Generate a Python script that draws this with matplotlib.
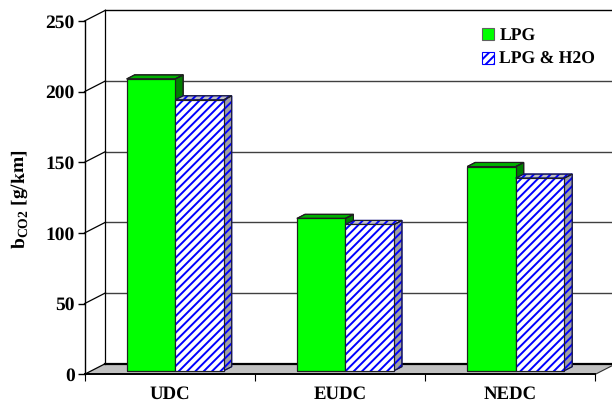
#!/usr/bin/python3

"""
Bar chart of CO2 emission per driving cycle, with a drawn 3D box look.
"""

import matplotlib
matplotlib.use("Agg")
import matplotlib.pyplot as plt
from matplotlib.patches import Patch, Polygon

cycles   = ["UDC", "EUDC", "NEDC"]
lpg      = [206.5, 107.8, 144.5]
lpg_h2o  = [191.7, 103.5, 136.3]
y_values = [0, 50, 100, 150, 200, 250]

# oblique projection: one unit of depth moves this far in data units
DEPTH_X = 0.1233
DEPTH_Y = 7.6
BAR_Z0  = 0.33
BAR_Z1  = 0.71
BAR_W   = 0.285

plt.rcParams["font.family"] = ["Liberation Serif", "DejaVu Serif"]
plt.rcParams["font.weight"] = "bold"
plt.rcParams["mathtext.fontset"] = "custom"
plt.rcParams["mathtext.bf"] = "Liberation Serif:bold"
plt.rcParams["mathtext.rm"] = "Liberation Serif:bold"
plt.rcParams["hatch.linewidth"] = 1.4
plt.rcParams["text.hinting"] = "no_hinting"


def proj(x, v, z):
    return (x + z * DEPTH_X, v + z * DEPTH_Y)


def poly(ax, pts, **kw):
    ax.add_patch(Polygon(pts, closed=True, clip_on=False, **kw))


def draw_bar(ax, x, val, front, side, top, hatch=None):
    """One box: side and top as polygons, front through ax.bar"""
    edge = "#202020"
    hkw = {"hatch": hatch, "linewidth": 0.8} if hatch else {"linewidth": 0.8}
    r = x + BAR_W
    side_pts = [proj(r, 0, BAR_Z0), proj(r, 0, BAR_Z1), proj(r, val, BAR_Z1), proj(r, val, BAR_Z0)]
    top_pts = [proj(x, val, BAR_Z0), proj(r, val, BAR_Z0), proj(r, val, BAR_Z1), proj(x, val, BAR_Z1)]
    poly(ax, side_pts, facecolor=side, edgecolor="blue" if hatch else edge, zorder=3, **hkw)
    poly(ax, top_pts, facecolor=top, edgecolor="blue" if hatch else edge, zorder=3, **hkw)
    # outlines stay dark, the hatch above takes the edge colour
    for pts in (side_pts, top_pts):
        poly(ax, pts, fill=False, edgecolor=edge, linewidth=0.8, zorder=3)
    x0, b0 = proj(x, 0, BAR_Z0)
    ax.bar(x0, val, BAR_W, bottom=b0, align="edge", color=front,
           edgecolor="blue" if hatch else edge, hatch=hatch, linewidth=0.8,
           zorder=3, clip_on=False)
    ax.bar(x0, val, BAR_W, bottom=b0, align="edge", fill=False,
           edgecolor=edge, linewidth=0.8, zorder=3, clip_on=False)


def main():
    fig = plt.figure()
    fig.set_size_inches(6.12, 4.03, forward=True)

    W, H = 612.0, 403.0
    ax = fig.add_axes([84.5 / W, 1 - 374.3 / H, (595.3 - 84.5) / W, (374.3 - 21.0) / H])
    ax.set_xlim(0, 3)
    ax.set_ylim(0, 250)
    ax.patch.set_visible(False)

    # floor
    poly(ax, [proj(0, 0, 0), proj(3, 0, 0), proj(3, 0, 1), proj(0, 0, 1)],
         facecolor="#c0c0c0", edgecolor="none", zorder=1)
    ax.plot(*zip(proj(0, 0, 1), proj(3, 0, 1)), color="black", lw=1.6, zorder=1.5, clip_on=False)
    ax.plot(*zip(proj(3, 0, 0), proj(3, 0, 1)), color="#303030", lw=0.8, zorder=1.5, clip_on=False)

    # back wall lines and the diagonals up from the y axis
    for v in y_values[1:]:
        col = "black" if v == 250 else "#404040"
        ax.plot(*zip(proj(0, v, 1), proj(3, v, 1)), color=col, lw=1.0, zorder=1, clip_on=False)
        ax.plot(*zip(proj(0, v, 0), proj(0, v, 1)), color="black", lw=0.9, zorder=1, clip_on=False)
    ax.plot(*zip(proj(0, 0, 0), proj(0, 0, 1)), color="black", lw=0.9, zorder=1.5, clip_on=False)
    ax.plot(*zip(proj(0, 0, 1), proj(0, 250, 1)), color="black", lw=0.9, zorder=1, clip_on=False)

    for i in range(len(cycles)):
        mid = i + 0.492
        draw_bar(ax, mid - BAR_W, lpg[i], "#00ff00", "#008000", "#00b000")
        draw_bar(ax, mid, lpg_h2o[i], "white", "#a0a0a0", "#c0c0c0", hatch="////")

    for s in ("top", "right"):
        ax.spines[s].set_visible(False)
    ax.spines["left"].set_linewidth(1.0)
    ax.spines["bottom"].set_linewidth(1.4)

    ax.set_yticks(y_values)
    ax.tick_params(axis="y", length=5, width=1.0, pad=2, labelsize=14)
    ax.set_xticks([0, 1, 2, 3])
    ax.set_xticklabels([])
    ax.tick_params(axis="x", which="major", length=5, width=0.8)
    ax.set_xticks([i + 0.5 for i in range(len(cycles))], labels=cycles, minor=True)
    ax.tick_params(axis="x", which="minor", length=0, pad=8, labelsize=13.5)

    fig.text(20 / W, 1 - 199 / H, r"b$_{\mathbf{CO2}}$ [g/km]", rotation=90,
             ha="center", va="center", fontsize=14)

    handles = [Patch(facecolor="#00ff00", edgecolor="#606060", linewidth=0.8, label="LPG"),
               Patch(facecolor="white", edgecolor="blue", hatch="////", linewidth=0.8, label="LPG & H2O")]
    fig.legend(handles=handles, loc="upper left", bbox_to_anchor=(482 / W, 1 - 28 / H),
               frameon=False, fontsize=12.7, handlelength=0.68, handleheight=0.68,
               handletextpad=0.3, labelspacing=0.42, borderpad=0, borderaxespad=0)

    fig.savefig("out.png", dpi=100)


if(__name__ == "__main__"):
    main()
